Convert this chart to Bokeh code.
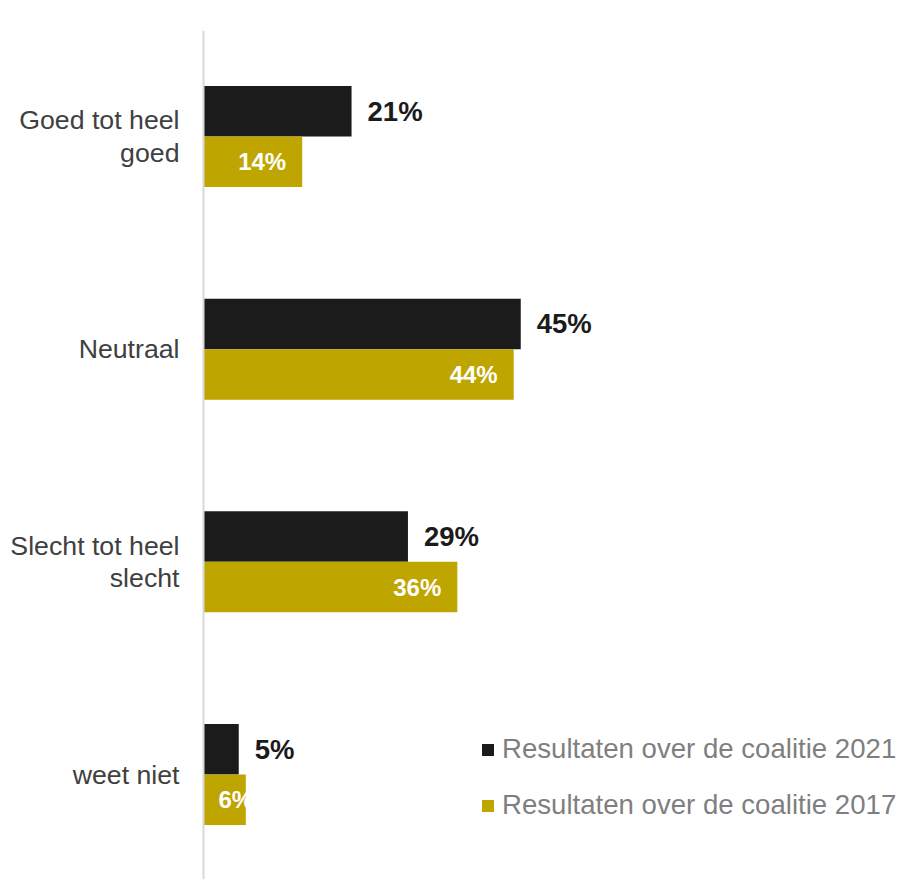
from bokeh.plotting import figure
from bokeh.models import ColumnDataSource, Range1d, Span, Legend, LegendItem
from bokeh.transform import dodge
from bokeh.core.properties import value
from bokeh.embed import file_html
from bokeh.resources import INLINE

# ---- data ----
categories = ["Goed tot heel\ngoed", "Neutraal", "Slecht tot heel\nslecht", "weet niet"]
vals_2021 = [21, 45, 29, 5]
vals_2017 = [14, 44, 36, 6]
series_names = ["Resultaten over de coalitie 2021", "Resultaten over de coalitie 2017"]

# ---- style / layout constants ----
FONT = "Liberation Sans"
BLACK = "#1b1b1b"
GOLD = "#bfa500"
W, H = 900, 879
PX_PER_UNIT_X = 7.05
AXIS_PX = 203
PX_PER_GROUP = 212.67
TOP_BORDER = 30
FIRST_CENTER_PX = 136
BAR_H = 50.5 / PX_PER_GROUP
OFF = BAR_H / 2

n = len(categories)
ypos = [n - 1 - i for i in range(n)]

x_start = -AXIS_PX / PX_PER_UNIT_X
x_end = (W - AXIS_PX) / PX_PER_UNIT_X
y_end = (n - 1) + (FIRST_CENTER_PX - TOP_BORDER) / PX_PER_GROUP
y_start = (n - 1) - (H - FIRST_CENTER_PX) / PX_PER_GROUP

# gold label placement: inside end, or inside base if the bar is too short
gold_w = 48
gx, galign, goff = [], [], []
for v in vals_2017:
    if v * PX_PER_UNIT_X < gold_w + 32:
        gx.append(0); galign.append("left"); goff.append(15)
    else:
        gx.append(v); galign.append("right"); goff.append(-16)

src = ColumnDataSource(dict(
    cat=categories, y=ypos, v21=vals_2021, v17=vals_2017,
    l21=[f"{v}%" for v in vals_2021], l17=[f"{v}%" for v in vals_2017],
    gx=gx, galign=galign, goff=goff, zero=[0] * n,
))

p = figure(width=W, height=H, output_backend="svg", toolbar_location=None,
           x_range=Range1d(x_start, x_end), y_range=Range1d(y_start, y_end),
           x_axis_type=None, y_axis_type=None,
           min_border_left=0, min_border_right=0, min_border_top=TOP_BORDER,
           min_border_bottom=0, outline_line_color=None,
           background_fill_color="white", border_fill_color="white")

r21 = p.hbar(y=dodge("y", OFF, range=p.y_range), left=0, right="v21", height=BAR_H,
             source=src, fill_color=BLACK, line_color=None)
r17 = p.hbar(y=dodge("y", -OFF, range=p.y_range), left=0, right="v17", height=BAR_H,
             source=src, fill_color=GOLD, line_color=None)

p.add_layout(Span(location=0, dimension="height", line_color="#d9d9d9", line_width=2))

# value labels
p.text(x="v21", y=dodge("y", OFF, range=p.y_range), text="l21", source=src,
       x_offset=16, text_align="left", text_baseline="middle",
       text_font=value(FONT), text_font_style="bold", text_font_size="27.5px",
       text_color=BLACK)
p.text(x="gx", y=dodge("y", -OFF, range=p.y_range), text="l17", source=src,
       x_offset="goff", text_align="galign", text_baseline="middle",
       text_font=value(FONT), text_font_style="bold", text_font_size="24px",
       text_color="white")

# category labels
p.text(x="zero", y="y", text="cat", source=src, x_offset=-24,
       text_align="right", text_baseline="middle",
       text_font=value(FONT), text_font_size="26.7px", text_color="#404040",
       text_line_height=1.07)

legend = Legend(items=[LegendItem(label=series_names[0], renderers=[r21]),
                       LegendItem(label=series_names[1], renderers=[r17])],
                location=(480, 58), orientation="vertical",
                glyph_width=15, glyph_height=15, label_standoff=7,
                spacing=24, padding=0, margin=0,
                label_text_font=FONT, label_text_font_size="27.6px",
                label_text_color="#7f7f7f",
                border_line_color=None, background_fill_alpha=0)
p.add_layout(legend)

open("out.html", "w").write(file_html(p, INLINE))
